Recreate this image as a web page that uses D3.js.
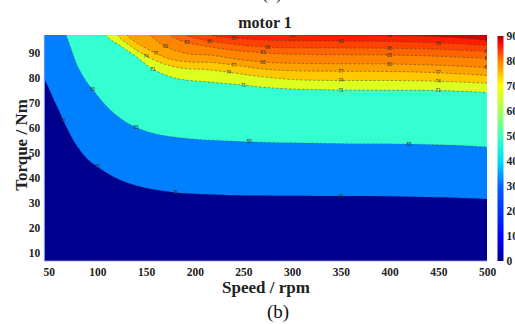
<!DOCTYPE html>
<html>
<head>
<meta charset="utf-8">
<script src="https://d3js.org/d3.v7.min.js"></script>
<style>
  body { margin:0; background:#fff; }
  svg { display:block; font-family:"Liberation Serif", serif; }
  .tick-lbl { font-size:11.5px; font-weight:bold; fill:#222; font-family:"Liberation Serif", serif; }
  .clbl { font-size:4.5px; fill:#333; font-family:"Liberation Sans", sans-serif; }
</style>
</head>
<body>
<script>
// tick labels
var speedTicks = [50, 100, 150, 200, 250, 300, 350, 400, 450, 500];
var torqueTicks = [10, 20, 30, 40, 50, 60, 70, 80, 90];
var cbarTicks = [0, 10, 20, 30, 40, 50, 60, 70, 80, 90];

// contour levels (efficiency %) and the colour of the band above each one
var levels = [35, 55, 71, 74, 77, 80, 83, 86, 89, 92];
var bandColors = ["#00008f", "#0080ff", "#33ffd0", "#dcff1e", "#ffc800", "#ffa200",
                  "#ff8400", "#ff6400", "#ff4200", "#ff1e00", "#d40000"];

// contour lines, [speed rpm, torque Nm]
var c35 = [[45,80],[50,76],[55,71.5],[60,67.5],[65,63],[70,59],[77,54],[90,47.5],[100,44.5],
           [115,40.8],[130,38.2],[150,36],[180,34.2],[210,33.5],[240,33.1],[300,32.9],
           [350,32.8],[400,32.7],[450,32.3],[500,31.6]];
var c55 = [[66,99],[70,95],[75,89.5],[80,84.5],[88,79],[95,75.5],[110,68.5],[126,63.2],
           [140,60.2],[160,57.6],[195,55.7],[220,55.1],[256,54.5],[300,54.1],[360,53.7],
           [420,53.6],[460,53.2],[500,52.4]];
var c71 = [[106,99],[110,96.5],[125,92.5],[140,88.5],[157,83.5],[175,80.5],[190,79.2],
           [208,78.6],[225,78],[250,77.2],[270,76.3],[300,75.6],[350,75.2],[400,75.1],
           [450,75],[500,74.2]];
var c74 = [[118,99],[122,96.5],[135,92.5],[150,88.8],[170,85.4],[190,83.8],[210,83.4],
           [235,82.3],[260,80.9],[300,79.4],[350,79],[400,79],[450,78.7],[500,77.9]];
var c77 = [[128,99],[132,96.5],[145,93],[160,89.8],[176,87.4],[200,86.3],[215,86.3],
           [240,85.2],[270,83.6],[300,82.9],[350,82.7],[400,82.6],[450,82.1],[500,81]];
var c80 = [[150,99],[155,96.8],[170,92.6],[194,89.6],[215,89.2],[240,87.7],[270,86.4],
           [300,85.9],[350,85.7],[400,85.6],[450,85.1],[500,84.2]];
var c83 = [[170,99],[178,96.3],[192,94.2],[213,92.6],[240,91.1],[270,90.1],[300,89.5],
           [350,89.3],[400,89.2],[450,88.7],[500,87.8]];
var c86 = [[185,99],[192,97],[215,94.8],[245,93.3],[275,92.3],[300,92.1],[350,92],
           [400,91.9],[450,91.5],[500,90.6]];
var c89 = [[210,99],[218,97],[240,96],[270,95.2],[300,94.9],[350,94.8],[400,94.6],
           [450,94],[500,93]];
var c92 = [[250,97.6],[300,97.2],[350,97.1],[400,97],[430,96.8],[460,96.3],[500,95.1]];
var contourLines = [c35, c55, c71, c74, c77, c80, c83, c86, c89, c92];

// which points along each line carry a level label
var labelIdx = [[4, 8, 12, 16], [5, 8, 12, 15], [4, 9, 12, 14], [3, 7, 10, 12], [3, 7, 10, 12],
                [2, 6, 9, 11], [2, 5, 8, 10], [2, 4, 7, 9], [2, 5, 7], [1, 3, 6]];

var W = 515, H = 324;
var m = {left: 44.3, right: 487, top: 35, bottom: 261};

var svg = d3.select("body").append("svg").attr("width", W).attr("height", H);

var x = d3.scaleLinear().domain([45.5, 500]).range([m.left, m.right]);
var y = d3.scaleLinear().domain([6.8, 97.2]).range([m.bottom, m.top]);

svg.append("clipPath").attr("id", "plotclip")
  .append("rect")
  .attr("x", m.left).attr("y", m.top)
  .attr("width", m.right - m.left).attr("height", m.bottom - m.top);

var plot = svg.append("g").attr("clip-path", "url(#plotclip)");

// lowest band
plot.append("rect")
  .attr("x", x(45.5)).attr("y", y(97.2))
  .attr("width", x(500) - x(45.5)).attr("height", y(6.8) - y(97.2))
  .attr("fill", bandColors[0]);

var curve = d3.curveCatmullRom.alpha(0.5);
var area = d3.area()
  .x(function(d) { return x(d[0]); })
  .y0(y(100))
  .y1(function(d) { return y(d[1]); })
  .curve(curve);
var line = d3.line()
  .x(function(d) { return x(d[0]); })
  .y(function(d) { return y(d[1]); })
  .curve(curve);

contourLines.forEach(function(pts, i) {
  plot.append("path")
    .attr("d", area(pts))
    .attr("fill", bandColors[i + 1]);
});
contourLines.forEach(function(pts, i) {
  plot.append("path")
    .attr("d", line(pts))
    .attr("fill", "none")
    .attr("stroke", "#3a3a3a")
    .attr("stroke-width", 0.6)
    .attr("stroke-dasharray", "2.5,1.8")
    .attr("opacity", i < 2 ? 0.45 : 0.8);
  labelIdx[i].forEach(function(k) {
    var p = pts[k];
    plot.append("text")
      .attr("class", "clbl")
      .attr("x", x(p[0])).attr("y", y(p[1]) + 1.6)
      .attr("text-anchor", "middle")
      .text(levels[i]);
  });
});

// axes
function styleAxis(g) {
  g.attr("font-family", null).attr("font-size", null);
  g.select(".domain").remove();
  g.selectAll("text").attr("class", "tick-lbl");
}
var xAxis = d3.axisBottom(x).tickValues(speedTicks).tickSize(0).tickPadding(7);
var gx = svg.append("g").attr("transform", "translate(0," + m.bottom + ")").call(xAxis);
styleAxis(gx);

var yAxis = d3.axisLeft(y).tickValues(torqueTicks).tickSize(0).tickPadding(4);
var gy = svg.append("g").attr("transform", "translate(" + m.left + ",0)").call(yAxis);
styleAxis(gy);

// thin frame on left/bottom
svg.append("line").attr("x1", m.left).attr("x2", m.left).attr("y1", m.top).attr("y2", m.bottom)
  .attr("stroke", "#8aa0ff").attr("stroke-width", 0.8);
svg.append("line").attr("x1", m.left).attr("x2", m.right).attr("y1", m.bottom).attr("y2", m.bottom)
  .attr("stroke", "#8aa0ff").attr("stroke-width", 0.8);

// colorbar
var cy = d3.scaleLinear().domain([0, 90]).range([261, 36]);
var defs = svg.append("defs");
var grad = defs.append("linearGradient").attr("id", "cbar")
  .attr("x1", 0).attr("y1", 1).attr("x2", 0).attr("y2", 0);
var cbStops = [[0, "#00008f"], [0.1, "#0000ff"], [0.33, "#0060ff"], [0.44, "#00d8ff"],
               [0.55, "#40ffc0"], [0.67, "#a8ff58"], [0.78, "#ffff00"], [0.89, "#ff8000"],
               [0.97, "#ff0000"], [1, "#a00000"]];
cbStops.forEach(function(s) {
  grad.append("stop").attr("offset", s[0]).attr("stop-color", s[1]);
});
svg.append("rect")
  .attr("x", 497.5).attr("y", cy(90))
  .attr("width", 6).attr("height", cy(0) - cy(90))
  .attr("fill", "url(#cbar)");
var cAxis = d3.axisRight(cy).tickValues(cbarTicks).tickSize(0).tickPadding(2.5);
var gc = svg.append("g").attr("transform", "translate(504,0)").call(cAxis);
styleAxis(gc);

// titles
svg.append("text").attr("x", 272).attr("y", -1).attr("text-anchor", "middle")
  .attr("font-size", 18).attr("fill", "#222").text("(a)");
svg.append("text").attr("x", 265).attr("y", 28).attr("text-anchor", "middle")
  .attr("font-size", 16).attr("font-weight", "bold").attr("fill", "#222").text("motor 1");
svg.append("text").attr("x", 266).attr("y", 293).attr("text-anchor", "middle")
  .attr("font-size", 17).attr("font-weight", "bold").attr("fill", "#222").text("Speed / rpm");
svg.append("text").attr("transform", "translate(27,145) rotate(-90)").attr("text-anchor", "middle")
  .attr("font-size", 17).attr("font-weight", "bold").attr("fill", "#222").text("Torque / Nm");
svg.append("text").attr("x", 278).attr("y", 318).attr("text-anchor", "middle")
  .attr("font-size", 19).attr("fill", "#111").text("(b)");
</script>
</body>
</html>
